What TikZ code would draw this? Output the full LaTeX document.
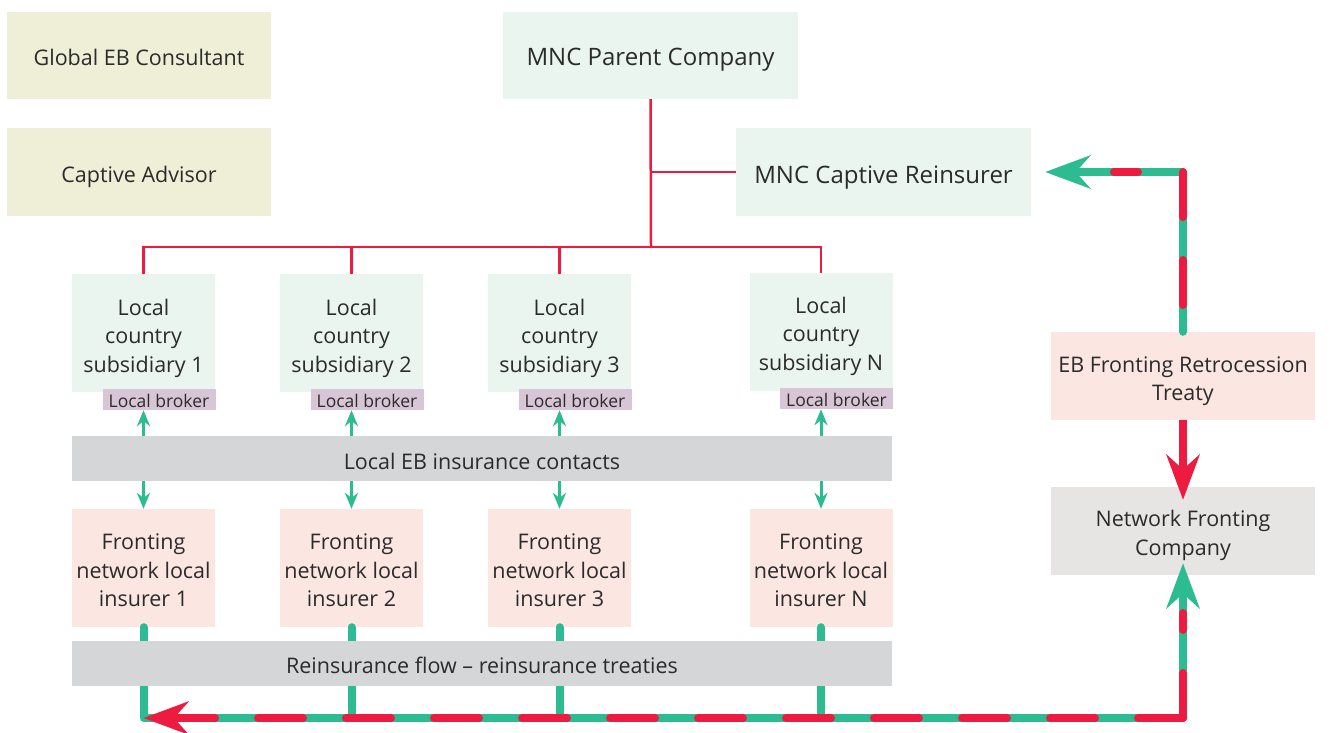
\documentclass[tikz,border=0pt]{standalone}
\usepackage{fontspec}
\setmainfont{Open Sans}
\usetikzlibrary{arrows.meta}
\definecolor{beige}{HTML}{EFEED6}
\definecolor{mint}{HTML}{EAF5EF}
\definecolor{pinkbox}{HTML}{FCE6E1}
\definecolor{graybar}{HTML}{D5D6D8}
\definecolor{netgray}{HTML}{E6E5E4}
\definecolor{brokerc}{HTML}{D8C6D6}
\definecolor{redc}{HTML}{EE1B41}
\definecolor{greenc}{HTML}{2DBB92}
\definecolor{txt}{HTML}{2B2B2B}
\begin{document}
\begin{tikzpicture}[x=1pt,y=-1pt,
  bx/.style={inner sep=0pt},
  lbl/.style={inner sep=0pt, text=txt, align=center, font=\fontsize{21.5}{28.5}\selectfont, yshift=-#1},
  biglbl/.style={lbl=#1, font=\fontsize{24}{30}\selectfont},
  brokerbx/.style={inner sep=0pt, fill=brokerc, minimum width=113pt, minimum height=21pt},
  brokerlbl/.style={inner sep=0pt, text=txt, font=\fontsize{17.5}{19}\selectfont, yshift=-1pt},
  rthin/.style={draw=redc, line width=2.5pt},
  garrow/.style={draw=greenc, line width=3pt, -{Stealth[length=16pt,width=13pt]}},
  gthick/.style={draw=greenc, line width=8pt, line cap=round, line join=round},
  rthick/.style={draw=redc, line width=8pt},
  rdash/.style={draw=redc, line width=8pt, line cap=round, dash pattern=on 45pt off 43pt},
  bigtip/.style={-{Stealth[length=45pt,width=33pt]}}
]
\useasboundingbox (0,0) rectangle (1332,732);

% top-left boxes
\node[bx, fill=beige, minimum width=264pt, minimum height=87pt, label={[lbl=1.5pt]center:Global EB Consultant}] (geb) at (139,55.5) {};
\node[bx, fill=beige, minimum width=264pt, minimum height=88pt, label={[lbl=5pt]center:Captive Advisor}] (cad) at (139,172) {};

% MNC
\node[bx, fill=mint, minimum width=295pt, minimum height=87pt, label={[biglbl=4pt]center:MNC Parent Company}] (mnc) at (650.5,55.5) {};
\node[bx, fill=mint, minimum width=295pt, minimum height=88pt, label={[biglbl=6pt]center:MNC Captive Reinsurer}] (mcr) at (883.5,172) {};

% right boxes
\node[bx, fill=pinkbox, minimum width=264pt, minimum height=88pt, label={[lbl=5pt]center:{EB Fronting Retrocession\\Treaty}}] (ebt) at (1183,376) {};
\node[bx, fill=netgray, minimum width=264pt, minimum height=88pt, label={[lbl=4.5pt]center:{Network Fronting\\Company}}] (nfc) at (1183,531) {};

% subsidiaries
\node[bx, fill=mint, minimum width=143pt, minimum height=118pt, label={[lbl=5pt]center:{Local\\country\\subsidiary 1}}] (sub1) at (143.5,333) {};
\node[bx, fill=mint, minimum width=143pt, minimum height=118pt, label={[lbl=5pt]center:{Local\\country\\subsidiary 2}}] (sub2) at (351.5,333) {};
\node[bx, fill=mint, minimum width=143pt, minimum height=118pt, label={[lbl=5pt]center:{Local\\country\\subsidiary 3}}] (sub3) at (559.5,333) {};
\node[bx, fill=mint, minimum width=143pt, minimum height=118pt, label={[lbl=4pt]center:{Local\\country\\subsidiary N}}] (subN) at (821,332) {};

\node[brokerbx, label={[brokerlbl]center:Local broker}] (br1) at (159,399.5) {};
\node[brokerbx, label={[brokerlbl]center:Local broker}] (br2) at (367,399.5) {};
\node[brokerbx, label={[brokerlbl]center:Local broker}] (br3) at (575,399.5) {};
\node[brokerbx, label={[brokerlbl]center:Local broker}] (brN) at (836.5,398.5) {};

% contacts bar
\node[bx, fill=graybar, minimum width=820pt, minimum height=45pt, label={[lbl=3pt]center:Local EB insurance contacts}] (ebc) at (482,458.5) {};

% fronting insurers
\node[bx, fill=pinkbox, minimum width=143pt, minimum height=118pt, label={[lbl=2.5pt]center:{Fronting\\network local\\insurer 1}}] (fr1) at (143.5,568) {};
\node[bx, fill=pinkbox, minimum width=143pt, minimum height=118pt, label={[lbl=2.5pt]center:{Fronting\\network local\\insurer 2}}] (fr2) at (351.5,568) {};
\node[bx, fill=pinkbox, minimum width=143pt, minimum height=118pt, label={[lbl=2.5pt]center:{Fronting\\network local\\insurer 3}}] (fr3) at (559.5,568) {};
\node[bx, fill=pinkbox, minimum width=143pt, minimum height=118pt, label={[lbl=2.5pt]center:{Fronting\\network local\\insurer N}}] (frN) at (821,568) {};

% corner coordinates
\coordinate (hub) at (651,247);
\coordinate (bl) at (143.5,718);
\coordinate (br) at (1183,718);
\coordinate (tr) at (1183,172);

% thick green flows (behind reinsurance bar)
\draw[gthick] (fr2.south) -- (fr2.south |- bl);
\draw[gthick] (fr3.south) -- (fr3.south |- bl);
\draw[gthick] (frN.south) -- (frN.south |- bl);
\draw[gthick, bigtip] (fr1.south) -- (bl) -- (br) -- ([yshift=12pt]nfc.south);
\draw[gthick, bigtip] (ebt.north) -- (tr) -- ([xshift=14pt]mcr.east);

% reinsurance bar
\node[bx, fill=graybar, minimum width=820pt, minimum height=45pt, label={[lbl=2pt]center:Reinsurance flow -- reinsurance treaties}] (rfl) at (482,663.5) {};

% red dashed overlays
\coordinate (rv) at (1183,613);
\coordinate (rh) at (210,718);
\coordinate (rtipstart) at (216,718);
\draw[rdash] (br) -- (rv);
\draw[rdash] (br) -- (rh);
\draw[rthick, bigtip] (rtipstart) -- (bl);
\draw[rdash] (tr) -- (ebt.north);
\coordinate (ra) at (1114,172);
\coordinate (rb) at (1138,172);
\draw[rthick, line cap=round] (ra) -- (rb);
\draw[rthick, bigtip] (ebt.south) -- ([yshift=-13pt]nfc.north);

% thin red org lines
\draw[rthin] (mnc.south) -- (hub);
\draw[rthin] (mnc.south |- mcr.west) -- (mcr.west);
\coordinate (hubN) at (subN.north |- hub);
\draw[rthin] (sub1.north) |- (hubN) -- (subN.north);
\draw[rthin] (sub2.north) -- (sub2.north |- hub);
\draw[rthin] (sub3.north) -- (sub3.north |- hub);

% green double arrows
\draw[garrow] (sub1.center |- ebc.north) -- (sub1.center |- br1.south);
\draw[garrow] (sub2.center |- ebc.north) -- (sub2.center |- br2.south);
\draw[garrow] (sub3.center |- ebc.north) -- (sub3.center |- br3.south);
\draw[garrow] (subN.center |- ebc.north) -- (subN.center |- brN.south);
\draw[garrow] (fr1.north |- ebc.south) -- (fr1.north);
\draw[garrow] (fr2.north |- ebc.south) -- (fr2.north);
\draw[garrow] (fr3.north |- ebc.south) -- (fr3.north);
\draw[garrow] (frN.north |- ebc.south) -- (frN.north);
\end{tikzpicture}
\end{document}
